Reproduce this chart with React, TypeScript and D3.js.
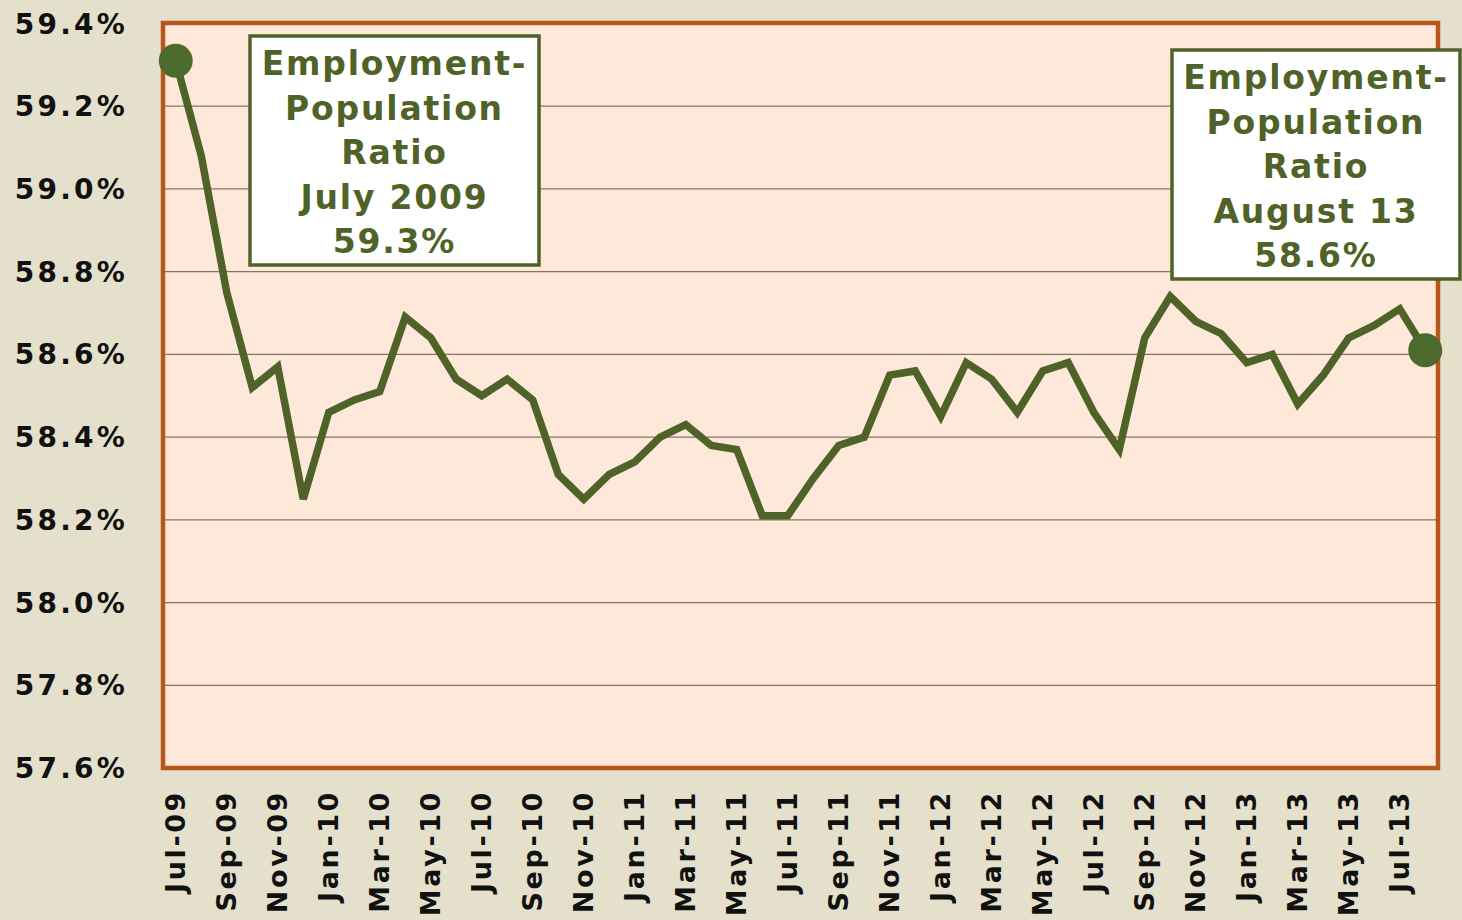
import * as d3 from 'd3';

const months = [
  'Jul-09', 'Aug-09', 'Sep-09', 'Oct-09', 'Nov-09', 'Dec-09',
  'Jan-10', 'Feb-10', 'Mar-10', 'Apr-10', 'May-10', 'Jun-10', 'Jul-10', 'Aug-10', 'Sep-10', 'Oct-10', 'Nov-10', 'Dec-10',
  'Jan-11', 'Feb-11', 'Mar-11', 'Apr-11', 'May-11', 'Jun-11', 'Jul-11', 'Aug-11', 'Sep-11', 'Oct-11', 'Nov-11', 'Dec-11',
  'Jan-12', 'Feb-12', 'Mar-12', 'Apr-12', 'May-12', 'Jun-12', 'Jul-12', 'Aug-12', 'Sep-12', 'Oct-12', 'Nov-12', 'Dec-12',
  'Jan-13', 'Feb-13', 'Mar-13', 'Apr-13', 'May-13', 'Jun-13', 'Jul-13', 'Aug-13',
];

const ratio = [
  59.31, 59.08, 58.75, 58.52, 58.57, 58.25,
  58.46, 58.49, 58.51, 58.69, 58.64, 58.54, 58.50, 58.54, 58.49, 58.31, 58.25, 58.31,
  58.34, 58.40, 58.43, 58.38, 58.37, 58.21, 58.21, 58.30, 58.38, 58.40, 58.55, 58.56,
  58.45, 58.58, 58.54, 58.46, 58.56, 58.58, 58.46, 58.37, 58.64, 58.74, 58.68, 58.65,
  58.58, 58.60, 58.48, 58.55, 58.64, 58.67, 58.71, 58.61,
];

const yTicks = [57.6, 57.8, 58.0, 58.2, 58.4, 58.6, 58.8, 59.0, 59.2, 59.4];

const startNote = ['Employment-', 'Population', 'Ratio', 'July 2009', '59.3%'];
const endNote = ['Employment-', 'Population', 'Ratio', 'August 13', '58.6%'];

const W = 1462;
const H = 920;
const left = 163;
const right = 1438;
const top = 23;
const bottom = 768;

const olive = '#4f6228';
const font = '"DejaVu Sans", Verdana, sans-serif';

function Note({ lines, x, y, w, h }: { lines: string[]; x: number; y: number; w: number; h: number }) {
  return (
    <g>
      <rect x={x} y={y} width={w} height={h} fill="#ffffff" stroke={olive} strokeWidth={3.5} />
      {lines.map((t, i) => (
        <text
          key={i}
          x={x + w / 2}
          y={y + 39 + i * 44.5}
          textAnchor="middle"
          fontFamily={font}
          fontWeight="bold"
          fontSize={33}
          letterSpacing={1.8}
          fill={olive}
        >
          {t}
        </text>
      ))}
    </g>
  );
}

export default function App() {
  const x = d3.scaleBand().domain(months).range([left, right]);
  const y = d3.scaleLinear().domain([57.6, 59.4]).range([bottom, top + 0.5]);
  const cx = (m: string) => (x(m) ?? 0) + x.bandwidth() / 2;

  const line = d3.line<number>()
    .x((_, i) => cx(months[i]))
    .y((d) => y(d));

  const tickMonths = months.filter((_, i) => i % 2 === 0);
  const last = months.length - 1;

  return (
    <svg width={W} height={H} style={{ position: 'fixed', left: 0, top: 0 }}>
      <rect width={W} height={H} fill="#e5e0cb" />
      <rect x={left} y={top} width={right - left} height={bottom - top} fill="#fde8da" />
      {yTicks.slice(1, -1).map((t) => (
        <line key={t} x1={left} x2={right} y1={y(t)} y2={y(t)} stroke="#857466" strokeWidth={1.2} />
      ))}
      <rect x={left} y={top} width={right - left} height={bottom - top} fill="none" stroke="#b9561c" strokeWidth={4.5} />
      {yTicks.map((t) => (
        <text
          key={t}
          x={128}
          y={y(t)}
          dy="0.36em"
          textAnchor="end"
          fontFamily={font}
          fontWeight="bold"
          fontSize={28}
          letterSpacing={3.2}
          fill="#111"
        >
          {d3.format('.1f')(t)}%
        </text>
      ))}
      {tickMonths.map((m) => (
        <text
          key={m}
          transform={`translate(${cx(m)},790) rotate(-90)`}
          dy="0.36em"
          textAnchor="end"
          fontFamily={font}
          fontWeight="bold"
          fontSize={27}
          letterSpacing={2.6}
          fill="#111"
        >
          {m}
        </text>
      ))}
      <path d={line(ratio) ?? ''} fill="none" stroke={olive} strokeWidth={7.5} strokeLinejoin="miter" />
      <circle cx={cx(months[0])} cy={y(ratio[0])} r={17} fill="#4b6a2b" />
      <circle cx={cx(months[last])} cy={y(ratio[last])} r={17} fill="#4b6a2b" />
      <Note lines={startNote} x={250} y={36} w={289} h={229} />
      <Note lines={endNote} x={1172} y={50} w={288} h={229} />
    </svg>
  );
}
